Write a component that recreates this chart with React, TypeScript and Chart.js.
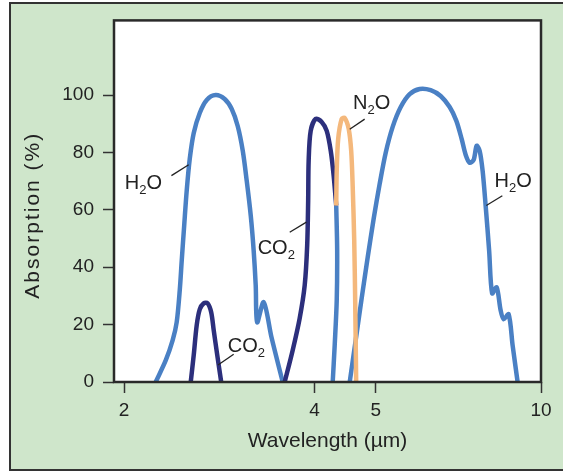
import React, { useEffect, useRef } from "react";
import { Chart, registerables } from "chart.js";

Chart.register(...registerables);

// ---------- data (wavelength in µm, absorption in %) ----------
const H2O_BAND1_X = [2.244, 2.328, 2.387, 2.422, 2.449, 2.467, 2.489, 2.512, 2.54, 2.577, 2.634, 2.702, 2.791, 2.884, 2.959, 3.024, 3.08, 3.125, 3.171, 3.205, 3.229, 3.246, 3.324, 3.422, 3.562];
const H2O_BAND1_Y = [0, 7.6, 14.6, 20.8, 31.9, 42.4, 54.5, 66.7, 77.8, 86.8, 93.75, 98.3, 100, 98.6, 95.1, 89.2, 80.6, 70.1, 58.0, 45.8, 33.7, 20.8, 27.8, 15.3, 0];

const H2O_MID_X = [4.328, 4.343, 4.336, 4.304, 4.273];
const H2O_MID_Y = [61.5, 45.8, 28.5, 12.8, 0];

const H2O_BAND2_X = [4.546, 4.646, 4.748, 4.853, 4.96, 5.07, 5.182, 5.315, 5.473, 5.654, 5.863, 6.103, 6.329, 6.54, 6.701, 6.831, 6.931, 7.033, 7.136, 7.214, 7.293, 7.373, 7.454, 7.55, 7.632, 7.759, 7.872, 7.959, 8.105, 8.223, 8.374];
const H2O_BAND2_Y = [0, 14.6, 29.2, 43.4, 56.9, 69.1, 79.9, 88.9, 95.8, 100.3, 102.1, 101.7, 99.65, 95.8, 91.0, 84.7, 79.2, 76.4, 77.4, 82.3, 80.6, 73.6, 61.5, 45.8, 30.9, 33.0, 25.0, 21.9, 23.6, 12.8, 0];

const CO2_SMALL_X = [2.549, 2.577, 2.605, 2.634, 2.672, 2.711, 2.746, 2.771, 2.807, 2.848];
const CO2_SMALL_Y = [0, 9.4, 19.8, 25.3, 27.4, 27.4, 24.3, 18.1, 9.4, 0];

const CO2_BIG_X = [3.588, 3.694, 3.789, 3.859, 3.894, 3.908, 3.915, 3.944, 4.017, 4.105, 4.181, 4.242, 4.288, 4.328];
const CO2_BIG_Y = [0, 11.1, 22.2, 33.7, 47.6, 63.2, 77.1, 87.5, 91.7, 90.6, 87.5, 80.6, 71.9, 61.5];

const N2O_X = [4.328, 4.336, 4.359, 4.415, 4.464, 4.529, 4.57, 4.595, 4.621, 4.637, 4.654];
const N2O_Y = [61.5, 73.6, 84.7, 91.7, 92.0, 88.2, 80.6, 68.4, 49.3, 28.5, 0];

// axes
const X_MIN = 1.928;
const X_MAX = 9.118;
const X_TICK_VALUES = [2, 4, 5, X_MAX];
const X_TICK_LABELS = ["2", "4", "5", "10"];
const Y_MIN = 0;
const Y_MAX = 126;
const Y_TICK_VALUES = [0, 20, 40, 60, 80, 100];

// gas labels (text left/baseline in data units) and leader lines
const LABEL_TEXTS = ["H2O", "CO2", "CO2", "N2O", "H2O"];
const LABEL_X = [2.005, 2.916, 3.252, 4.6, 7.702];
const LABEL_Y = [67.4, 10.5, 44.7, 95.0, 67.8];
const LEADER_X1 = [2.376, 2.815, 3.654, 4.546, 7.473];
const LEADER_Y1 = [71.9, 5.9, 52.2, 88.1, 61.5];
const LEADER_X2 = [2.53, 2.98, 3.883, 4.8, 7.921];
const LEADER_Y2 = [75.7, 9.7, 55.7, 91.6, 64.9];

const X_TITLE = "Wavelength (\u00b5m)";
const Y_TITLE = "Absorption (%)";

// ---------- styles ----------
const FONT = "'Liberation Sans', Arial, Helvetica, sans-serif";
const TEXT_COLOR = "#222222";
const H2O_COLOR = "#4a80c4";
const CO2_COLOR = "#2c2f7c";
const N2O_COLOR = "#f4b87c";
const BG_GREEN = "#cfe6cb";

const pts = (xs: number[], ys: number[]) => xs.map((x, i) => ({ x, y: ys[i] }));

function drawChem(ctx: CanvasRenderingContext2D, text: string, x: number, y: number) {
  let cx = x;
  for (const ch of text) {
    const sub = /[0-9]/.test(ch);
    ctx.font = sub ? `13px ${FONT}` : `20px ${FONT}`;
    ctx.fillText(ch, cx, sub ? y + 5 : y);
    cx += ctx.measureText(ch).width;
  }
}

const decorPlugin = {
  id: "decor",
  beforeDraw(chart: any) {
    const { ctx, chartArea } = chart;
    const { left, top, right, bottom } = chartArea;
    ctx.save();
    ctx.fillStyle = "#ffffff";
    ctx.fillRect(left, top, right - left, bottom - top);
    ctx.restore();
  },
  afterDatasetsDraw(chart: any) {
    const { ctx, chartArea, scales } = chart;
    const { left, top, right, bottom } = chartArea;
    const xs = scales.x;
    const ys = scales.y;
    ctx.save();
    // plot frame
    ctx.strokeStyle = "#2a2a2a";
    ctx.lineWidth = 2.5;
    ctx.strokeRect(left, top, right - left, bottom - top);
    // leaders
    ctx.strokeStyle = TEXT_COLOR;
    ctx.lineWidth = 1.3;
    for (let i = 0; i < LEADER_X1.length; i++) {
      ctx.beginPath();
      ctx.moveTo(xs.getPixelForValue(LEADER_X1[i]), ys.getPixelForValue(LEADER_Y1[i]));
      ctx.lineTo(xs.getPixelForValue(LEADER_X2[i]), ys.getPixelForValue(LEADER_Y2[i]));
      ctx.stroke();
    }
    // labels
    ctx.fillStyle = TEXT_COLOR;
    ctx.textBaseline = "alphabetic";
    ctx.textAlign = "left";
    for (let i = 0; i < LABEL_TEXTS.length; i++) {
      drawChem(ctx, LABEL_TEXTS[i], xs.getPixelForValue(LABEL_X[i]), ys.getPixelForValue(LABEL_Y[i]));
    }
    // y title
    ctx.translate(33, (top + bottom) / 2 + 14);
    ctx.rotate(-Math.PI / 2);
    ctx.font = `21px ${FONT}`;
    (ctx as any).letterSpacing = "2px";
    ctx.textAlign = "center";
    ctx.textBaseline = "middle";
    ctx.fillText(Y_TITLE, 0, 0);
    ctx.restore();
  },
};

export default function App() {
  const ref = useRef<HTMLCanvasElement | null>(null);

  useEffect(() => {
    if (!ref.current) return;
    const line = (label: string, xs: number[], ys: number[], color: string) => ({
      label,
      data: pts(xs, ys),
      borderColor: color,
      backgroundColor: color,
      borderWidth: 4.5,
      pointRadius: 0,
      tension: 0.3,
      fill: false,
      borderCapStyle: "butt",
      borderJoinStyle: "round",
    });
    const chart = new Chart(ref.current, {
      type: "line",
      data: {
        datasets: [
          line("N2O", N2O_X, N2O_Y, N2O_COLOR),
          line("CO2 4.3", CO2_BIG_X, CO2_BIG_Y, CO2_COLOR),
          line("CO2 2.7", CO2_SMALL_X, CO2_SMALL_Y, CO2_COLOR),
          line("H2O 4.3", H2O_MID_X, H2O_MID_Y, H2O_COLOR),
          line("H2O band 2", H2O_BAND2_X, H2O_BAND2_Y, H2O_COLOR),
          line("H2O band 1", H2O_BAND1_X, H2O_BAND1_Y, H2O_COLOR),
        ] as any,
      },
      options: {
        animation: false,
        responsive: false,
        devicePixelRatio: 1,
        layout: { padding: { left: 0, right: 22, top: 19, bottom: 0 } },
        plugins: { legend: { display: false }, tooltip: { enabled: false } },
        scales: {
          x: {
            type: "logarithmic",
            min: X_MIN,
            max: X_MAX,
            afterBuildTicks: (s: any) => {
              s.ticks = X_TICK_VALUES.map((v) => ({ value: v }));
            },
            afterFit: (s: any) => {
              s.height = 89;
            },
            ticks: {
              autoSkip: false,
              maxRotation: 0,
              padding: 6,
              color: TEXT_COLOR,
              font: { family: FONT, size: 19 },
              callback: (_v: any, i: number) => X_TICK_LABELS[i],
            },
            grid: { drawOnChartArea: false, tickLength: 11, tickWidth: 1.5, color: "#333" },
            border: { display: false },
            title: {
              display: true,
              text: X_TITLE,
              color: TEXT_COLOR,
              font: { family: FONT, size: 21 },
              padding: { top: 0, bottom: 17 },
            },
          },
          y: {
            type: "linear",
            min: Y_MIN,
            max: Y_MAX,
            afterBuildTicks: (s: any) => {
              s.ticks = Y_TICK_VALUES.map((v) => ({ value: v }));
            },
            afterFit: (s: any) => {
              s.width = 114;
            },
            ticks: {
              padding: 9,
              color: TEXT_COLOR,
              font: { family: FONT, size: 19 },
            },
            grid: { drawOnChartArea: false, tickLength: 11, tickWidth: 1.5, color: "#333" },
            border: { display: false },
          },
        },
      } as any,
      plugins: [decorPlugin as any],
    });
    return () => chart.destroy();
  }, []);

  return (
    <div style={{ position: "absolute", left: 0, top: 0, width: 563, height: 471, overflow: "hidden", background: "#fff" }}>
      <div
        style={{
          position: "absolute",
          left: 9,
          top: 2,
          width: 600,
          height: 469,
          boxSizing: "border-box",
          background: BG_GREEN,
          borderTop: "2px solid #333",
          borderLeft: "2px solid #333",
          borderBottom: "2px solid #333",
        }}
      />
      <canvas ref={ref} width={563} height={471} style={{ position: "absolute", left: 0, top: 0 }} />
    </div>
  );
}
